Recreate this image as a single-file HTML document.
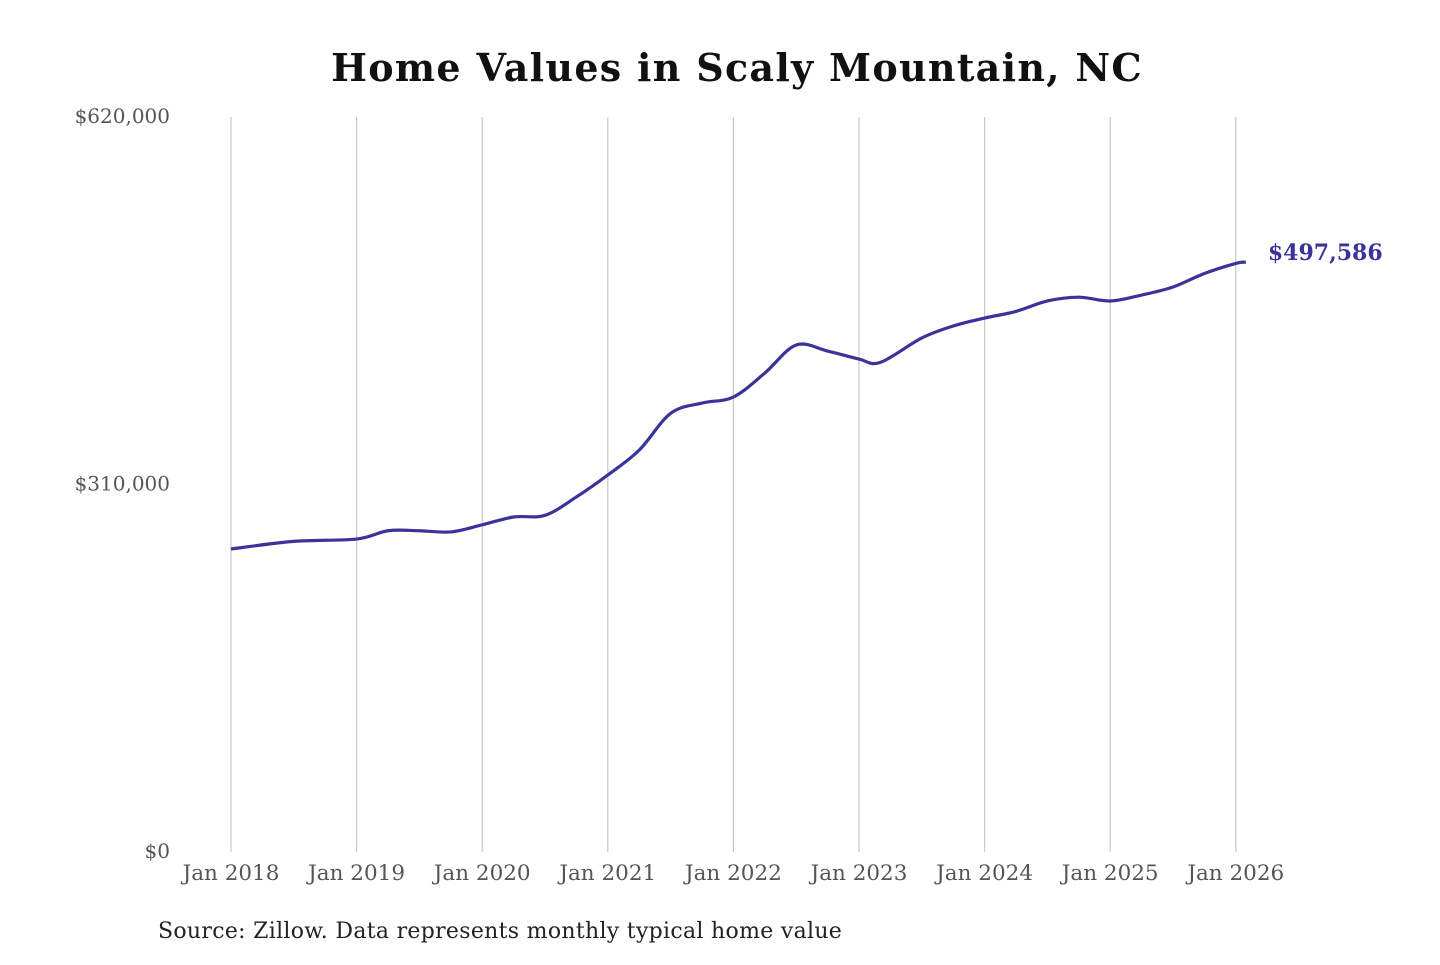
<!DOCTYPE html>
<html><head><meta charset="utf-8"><style>
body{margin:0;background:#fff;}
svg text{font-family:"DejaVu Serif","Liberation Serif",serif;}
</style></head><body>
<svg id="chart" width="1440" height="960" xmlns="http://www.w3.org/2000/svg">
<text x="737" y="81" text-anchor="middle" font-size="38" font-weight="bold" letter-spacing="1.3" fill="#111">Home Values in Scaly Mountain, NC</text>
<g id="grid"></g><g id="ylab"></g><g id="xlab"></g>
<path id="line" fill="none" stroke="#3a3399" stroke-width="3.2" stroke-linejoin="round"/>
<text id="endlabel" font-size="22" font-weight="bold" fill="#3a3399"></text>
<text x="158" y="938" font-size="22" letter-spacing="0.3" fill="#222">Source: Zillow. Data represents monthly typical home value</text>
</svg>
<script>
const dates=[2018.0,2018.5,2019.0,2019.25,2019.5,2019.75,2020.0,2020.25,2020.5,2020.75,2021.0,2021.25,2021.5,2021.75,2022.0,2022.25,2022.5,2022.75,2023.0,2023.17,2023.5,2023.75,2024.0,2024.25,2024.5,2024.75,2025.0,2025.25,2025.5,2025.75,2026.0,2026.08];
const values=[255600,262000,264000,271000,271000,270000,276000,282600,284000,299500,318000,339000,370000,378700,383800,404000,427700,422600,415800,413000,433600,443700,450400,456000,464800,468000,464800,469800,476600,488000,496500,497586];
const yTicks=[0,310000,620000];
const yTickLabels=["$0","$310,000","$620,000"];
const xTicks=[2018,2019,2020,2021,2022,2023,2024,2025,2026];
const xTickLabels=xTicks.map(y=>"Jan "+y);
const NS="http://www.w3.org/2000/svg";
const X=d=>231+(d-2018)*125.6;
const Y=v=>852-v/620000*735;
const g=document.getElementById('grid'),yl=document.getElementById('ylab'),xl=document.getElementById('xlab');
xTicks.forEach((t,i)=>{
 const l=document.createElementNS(NS,'line');
 
 
 l.setAttribute('x1',X(t));l.setAttribute('x2',X(t));l.setAttribute('y1',117);l.setAttribute('y2',852);
 l.setAttribute('stroke','#c8c8c8');l.setAttribute('stroke-width','1.2');g.appendChild(l);
 const tx=document.createElementNS(NS,'text');
 
 
 tx.setAttribute('x',X(t));tx.setAttribute('y',880);tx.setAttribute('text-anchor','middle');
 tx.setAttribute('font-size','21.5');tx.setAttribute('fill','#555');tx.textContent=xTickLabels[i];xl.appendChild(tx);
});
yTicks.forEach((t,i)=>{
 const tx=document.createElementNS(NS,'text');
 
 
 tx.setAttribute('x',170);tx.setAttribute('y',Y(t)+6);tx.setAttribute('text-anchor','end');
 tx.setAttribute('font-size','20');tx.setAttribute('fill','#555');tx.textContent=yTickLabels[i];yl.appendChild(tx);
});
const pts=dates.map((d,i)=>[X(d),Y(values[i])]);
let p='M'+pts[0][0]+','+pts[0][1];
for(let i=0;i<pts.length-1;i++){
 const p0=pts[Math.max(0,i-1)],p1=pts[i],p2=pts[i+1],p3=pts[Math.min(pts.length-1,i+2)];
 const c1=[p1[0]+(p2[0]-p0[0])/6,p1[1]+(p2[1]-p0[1])/6],c2=[p2[0]-(p3[0]-p1[0])/6,p2[1]-(p3[1]-p1[1])/6];
 p+=`C${c1[0]},${c1[1]} ${c2[0]},${c2[1]} ${p2[0]},${p2[1]}`;
}
document.getElementById('line').setAttribute('d',p);
const last=pts[pts.length-1],el=document.getElementById('endlabel');
el.setAttribute('x',last[0]+22);el.setAttribute('y',last[1]-2);
el.textContent='$'+values[values.length-1].toLocaleString('en-US');
</script>
</body></html>
